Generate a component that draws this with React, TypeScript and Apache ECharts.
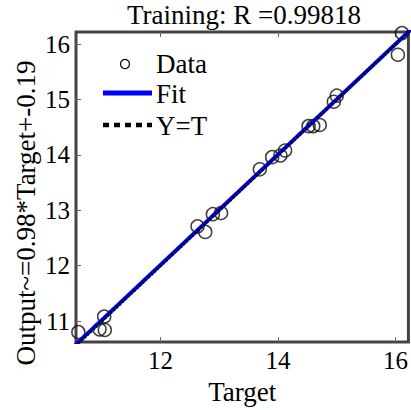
import React, { useEffect, useRef } from "react";
import * as echarts from "echarts";

const xTicks = [12, 14, 16];
const yTicks = [11, 12, 13, 14, 15, 16];
const targets = [10.6, 11.04, 10.96, 11.05, 12.63, 12.76, 12.89, 13.03, 13.69, 13.9, 14.04, 14.12, 14.52, 14.6, 14.71, 14.95, 15.0, 16.04, 16.11];
const outputs = [10.8, 11.08, 10.85, 10.84, 12.71, 12.61, 12.93, 12.95, 13.74, 13.96, 13.99, 14.08, 14.52, 14.52, 14.54, 14.96, 15.07, 15.81, 16.2];
const xRange = [10.56, 16.22];
const yRange = [10.62, 16.22];
const fitX = [10.5, 16.3];
const fitY = [10.52, 16.3];
const identityXY = [10.5, 16.3];

const titleText = "Training: R =0.99818";
const xName = "Target";
const yName = "Output~=0.98*Target+-0.19";
const legendNames = ["Data", "Fit", "Y=T"];

const FONT = "'Liberation Serif', 'Times New Roman', serif";

export default function App() {
  const ref = useRef<HTMLDivElement>(null);
  useEffect(() => {
    if (!ref.current) return;
    const chart = echarts.init(ref.current, null, { renderer: "svg" });
    const tickStyle = { show: true, inside: true, length: 5, lineStyle: { color: "#666", width: 1 } };
    chart.setOption({
      animation: false,
      backgroundColor: "#ffffff",
      grid: {
        left: 76,
        top: 32,
        width: 337,
        height: 313,
        show: true,
        borderColor: "#444",
        borderWidth: 3,
        backgroundColor: "transparent",
      },
      xAxis: [
        {
          type: "value",
          min: xRange[0],
          max: xRange[1],
          position: "bottom",
          axisLine: { show: false },
          splitLine: { show: false },
          axisTick: { ...tickStyle, customValues: xTicks },
          axisLabel: {
            customValues: xTicks,
            margin: 6,
            fontSize: 25,
            color: "#000",
            fontFamily: FONT,
          },
          name: xName,
          nameLocation: "middle",
          nameGap: 35,
          nameTextStyle: { fontSize: 27, color: "#000", fontFamily: FONT },
        },
        {
          type: "value",
          min: xRange[0],
          max: xRange[1],
          position: "top",
          axisLine: { show: false },
          splitLine: { show: false },
          axisTick: { ...tickStyle, customValues: xTicks },
          axisLabel: { show: false },
        },
      ],
      yAxis: [
        {
          type: "value",
          min: yRange[0],
          max: yRange[1],
          position: "left",
          axisLine: { show: false },
          splitLine: { show: false },
          axisTick: { ...tickStyle, customValues: yTicks },
          axisLabel: {
            customValues: yTicks,
            margin: 6,
            fontSize: 25,
            color: "#000",
            fontFamily: FONT,
          },
        },
      ],
      series: [
        {
          type: "scatter",
          name: legendNames[0],
          data: targets.map((t, i) => [t, outputs[i]]),
          symbol: "circle",
          symbolSize: 13,
          itemStyle: { color: "transparent", borderColor: "#111", borderWidth: 1.5 },
          clip: true,
        },
        {
          type: "line",
          name: legendNames[1],
          data: fitX.map((x, i) => [x, fitY[i]]),
          showSymbol: false,
          clip: true,
          lineStyle: { color: "#0000ff", width: 4 },
        },
        {
          type: "line",
          name: legendNames[2],
          data: identityXY.map((v) => [v, v]),
          showSymbol: false,
          clip: true,
          lineStyle: { color: "#000", width: 3, type: [2, 2] },
        },
      ],
      graphic: [
        {
          type: "text",
          x: 244,
          y: 15,
          style: { text: titleText, font: `27px ${FONT}`, fill: "#000", align: "center", verticalAlign: "middle" },
        },
        {
          type: "text",
          x: 26,
          y: 213,
          rotation: Math.PI / 2,
          style: { text: yName, font: `27px ${FONT}`, fill: "#000", align: "center", verticalAlign: "middle" },
        },
        {
          type: "circle",
          shape: { cx: 125, cy: 64, r: 4.5 },
          style: { fill: "none", stroke: "#000", lineWidth: 1.2 },
        },
        {
          type: "text",
          x: 156,
          y: 64,
          style: { text: legendNames[0], font: `27px ${FONT}`, fill: "#000", align: "left", verticalAlign: "middle" },
        },
        {
          type: "line",
          shape: { x1: 103, y1: 93, x2: 152, y2: 93 },
          style: { stroke: "#0000ff", lineWidth: 5 },
        },
        {
          type: "text",
          x: 156,
          y: 94,
          style: { text: legendNames[1], font: `27px ${FONT}`, fill: "#000", align: "left", verticalAlign: "middle" },
        },
        {
          type: "line",
          shape: { x1: 103, y1: 125, x2: 152, y2: 125 },
          style: { stroke: "#000", lineWidth: 4.5, lineDash: [6, 5] },
        },
        {
          type: "text",
          x: 156,
          y: 126,
          style: { text: legendNames[2], font: `27px ${FONT}`, fill: "#000", align: "left", verticalAlign: "middle" },
        },
      ],
    });
    return () => chart.dispose();
  }, []);
  return (
    <div
      ref={ref}
      style={{ position: "absolute", left: 0, top: 0, width: 411, height: 410 }}
    />
  );
}
